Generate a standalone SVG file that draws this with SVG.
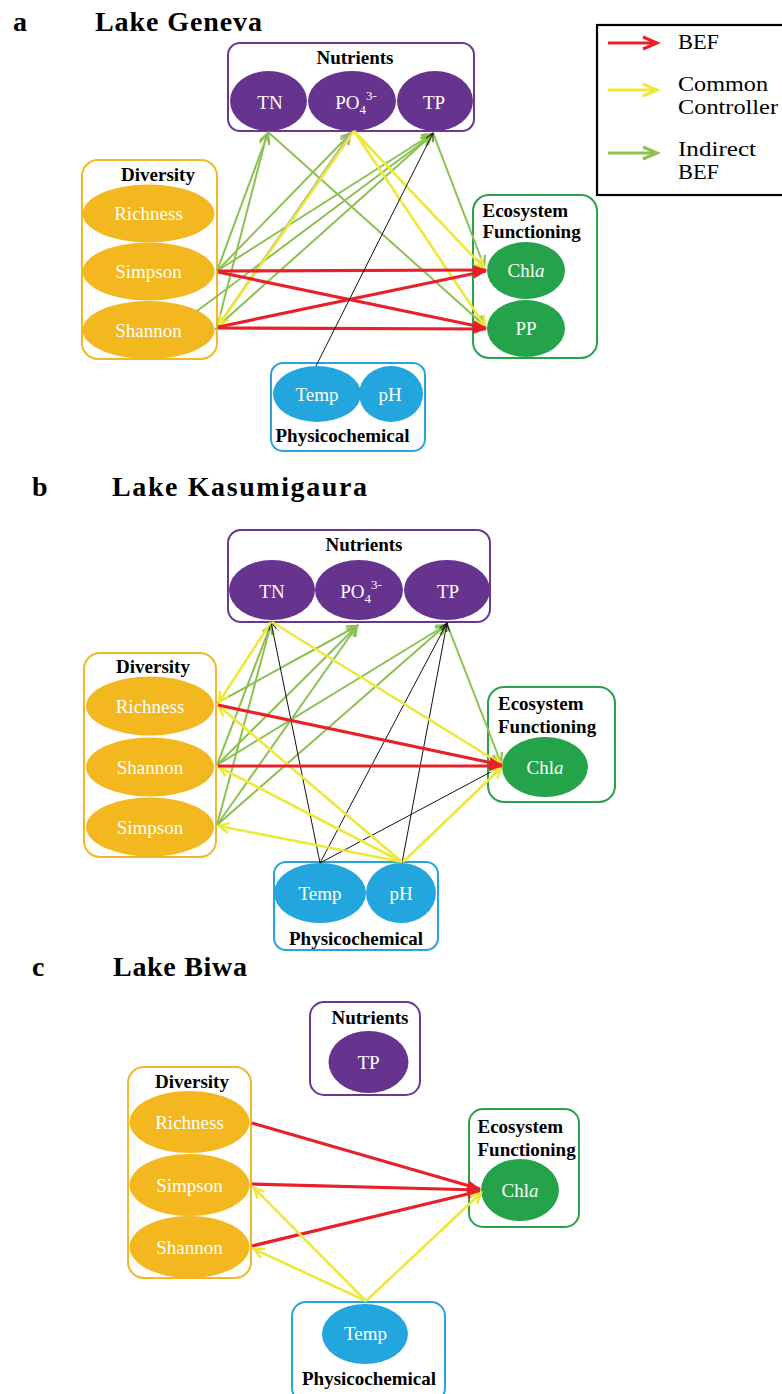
<svg xmlns="http://www.w3.org/2000/svg" width="782" height="1394" viewBox="0 0 782 1394">
<defs>
<style>
text{font-family:"Liberation Serif","Times New Roman",serif}
.ti{font-weight:bold;font-size:28px;fill:#000}
.lb{font-weight:bold;font-size:19px;fill:#000}
.lbc{font-weight:bold;font-size:19px;fill:#000;text-anchor:middle}
.et{fill:#fff;font-size:19px;text-anchor:middle}
.lg{font-size:21px;fill:#000}
.pu{fill:#66338f}
.or{fill:#f3b81f}
.gr{fill:#24a34a}
.bl{fill:#23a6de}
.bpu{fill:none;stroke:#6a3893;stroke-width:2}
.bor{fill:none;stroke:#f3b82a;stroke-width:2}
.bgr{fill:none;stroke:#2aa24c;stroke-width:2}
.bbl{fill:none;stroke:#28a4dc;stroke-width:2}
.r{fill:none;stroke:#e8202a;stroke-width:3.2;marker-end:url(#mr)}
.y{fill:none;stroke:#ece93a;stroke-width:2.6;marker-end:url(#my)}
.g{fill:none;stroke:#8cc152;stroke-width:2;marker-end:url(#mg)}
.gy{fill:none;stroke:#a3ad98;stroke-width:2;marker-end:url(#mgy)}
.k{fill:none;stroke:#111;stroke-width:1;marker-end:url(#mk)}
</style>
<marker id="mr" viewBox="0 0 14 10" refX="13" refY="5" markerWidth="14" markerHeight="10" markerUnits="userSpaceOnUse" orient="auto" overflow="visible"><path d="M0,0 L14,5 L0,10 z" fill="#e8202a"/></marker>
<marker id="my" viewBox="0 0 12 12" refX="11" refY="6" markerWidth="12" markerHeight="12" markerUnits="userSpaceOnUse" orient="auto" overflow="visible"><path d="M1,1 L11,6 L1,11" fill="none" stroke="#ece93a" stroke-width="2.5"/></marker>
<marker id="mg" viewBox="0 0 12 12" refX="11" refY="6" markerWidth="12" markerHeight="12" markerUnits="userSpaceOnUse" orient="auto" overflow="visible"><path d="M1,1 L11,6 L1,11" fill="none" stroke="#8cc152" stroke-width="2.2"/></marker>
<marker id="mgy" viewBox="0 0 12 12" refX="11" refY="6" markerWidth="12" markerHeight="12" markerUnits="userSpaceOnUse" orient="auto" overflow="visible"><path d="M1,1 L11,6 L1,11" fill="none" stroke="#a3ad98" stroke-width="2.2"/></marker>
<marker id="mk" viewBox="0 0 10 10" refX="9" refY="5" markerWidth="10" markerHeight="10" markerUnits="userSpaceOnUse" orient="auto" overflow="visible"><path d="M1,1 L9,5 L1,9" fill="none" stroke="#111" stroke-width="1"/></marker>
<marker id="lr" viewBox="0 0 16 14" refX="15" refY="7" markerWidth="16" markerHeight="14" markerUnits="userSpaceOnUse" orient="auto" overflow="visible"><path d="M1,1 L15,7 L1,13" fill="none" stroke="#e8202a" stroke-width="3"/></marker>
<marker id="ly" viewBox="0 0 16 14" refX="15" refY="7" markerWidth="16" markerHeight="14" markerUnits="userSpaceOnUse" orient="auto" overflow="visible"><path d="M1,1 L15,7 L1,13" fill="none" stroke="#ece93a" stroke-width="3"/></marker>
<marker id="lgm" viewBox="0 0 16 14" refX="15" refY="7" markerWidth="16" markerHeight="14" markerUnits="userSpaceOnUse" orient="auto" overflow="visible"><path d="M1,1 L15,7 L1,13" fill="none" stroke="#8cc152" stroke-width="3"/></marker>
</defs>
<rect x="0" y="0" width="782" height="1394" fill="#fff"/>

<g id="titles">
<text class="ti" x="13" y="31">a</text>
<text class="ti" x="95" y="31" textLength="167" lengthAdjust="spacing">Lake Geneva</text>
<text class="ti" x="32" y="496">b</text>
<text class="ti" x="112" y="496" textLength="255" lengthAdjust="spacing">Lake Kasumigaura</text>
<text class="ti" x="32" y="976">c</text>
<text class="ti" x="113" y="976" textLength="134" lengthAdjust="spacing">Lake Biwa</text>
</g>

<g id="legend">
<rect x="597" y="25" width="200" height="170" fill="#fff" stroke="#000" stroke-width="2.2"/>
<line x1="608" y1="43" x2="657" y2="43" stroke="#e8202a" stroke-width="3.2" marker-end="url(#lr)"/>
<line x1="608" y1="90" x2="657" y2="90" stroke="#ece93a" stroke-width="3" marker-end="url(#ly)"/>
<line x1="608" y1="153" x2="657" y2="153" stroke="#8cc152" stroke-width="3" marker-end="url(#lgm)"/>
<text class="lg" x="678" y="49" textLength="41" lengthAdjust="spacingAndGlyphs">BEF</text>
<text class="lg" x="678" y="91" textLength="90" lengthAdjust="spacingAndGlyphs">Common</text>
<text class="lg" x="678" y="114" textLength="100" lengthAdjust="spacingAndGlyphs">Controller</text>
<text class="lg" x="678" y="156" textLength="78" lengthAdjust="spacingAndGlyphs">Indirect</text>
<text class="lg" x="678" y="179" textLength="41" lengthAdjust="spacingAndGlyphs">BEF</text>
</g>

<!-- Panel a nodes -->
<g id="a-nutrients">
<rect class="bpu" x="228" y="43" width="246" height="88" rx="12"/>
<ellipse class="pu" cx="268.5" cy="101" rx="38.5" ry="30"/>
<ellipse class="pu" cx="352" cy="101" rx="44" ry="30"/>
<ellipse class="pu" cx="435" cy="101" rx="38" ry="30"/>
<text class="lbc" x="355" y="64">Nutrients</text>
<text class="et" x="270" y="109">TN</text>
<text class="et" x="356" y="109">PO<tspan dy="5" font-size="13">4</tspan><tspan dy="-14" font-size="13">3-</tspan></text>
<text class="et" x="434" y="109">TP</text>
</g>
<g id="a-diversity">
<rect class="bor" x="82" y="160" width="135" height="199" rx="16"/>
<ellipse class="or" cx="148.5" cy="213.5" rx="66" ry="29"/>
<ellipse class="or" cx="148.5" cy="271.5" rx="66" ry="29"/>
<ellipse class="or" cx="148.5" cy="330" rx="66" ry="29"/>
<text class="lbc" x="158" y="181">Diversity</text>
<text class="et" x="148.5" y="220">Richness</text>
<text class="et" x="148.5" y="278">Simpson</text>
<text class="et" x="148.5" y="337">Shannon</text>
</g>
<g id="a-ecosystem">
<rect class="bgr" x="473" y="195" width="124" height="163" rx="16"/>
<ellipse class="gr" cx="526" cy="270.5" rx="39" ry="28.5"/>
<ellipse class="gr" cx="526" cy="328.5" rx="39" ry="28.5"/>
<text class="lb" x="482.5" y="216.5">Ecosystem</text>
<text class="lb" x="482.5" y="238">Functioning</text>
<text class="et" x="526" y="277">Chl<tspan font-style="italic">a</tspan></text>
<text class="et" x="526" y="335">PP</text>
</g>
<g id="a-physico">
<rect class="bbl" x="271" y="363" width="154" height="88" rx="12"/>
<ellipse class="bl" cx="317" cy="394" rx="44" ry="28"/>
<ellipse class="bl" cx="391" cy="394" rx="32" ry="28"/>
<text class="et" x="317" y="400.5">Temp</text>
<text class="et" x="390" y="400.5">pH</text>
<text class="lbc" x="342.5" y="441.5">Physicochemical</text>
</g>

<!-- Panel b nodes -->
<g id="b-nutrients">
<rect class="bpu" x="228" y="530" width="262" height="92" rx="13"/>
<ellipse class="pu" cx="272" cy="590" rx="43" ry="30"/>
<ellipse class="pu" cx="359" cy="590" rx="44" ry="30"/>
<ellipse class="pu" cx="447" cy="590" rx="43" ry="30"/>
<text class="lbc" x="364" y="551">Nutrients</text>
<text class="et" x="272" y="598">TN</text>
<text class="et" x="361" y="598">PO<tspan dy="5" font-size="13">4</tspan><tspan dy="-14" font-size="13">3-</tspan></text>
<text class="et" x="448" y="598">TP</text>
</g>
<g id="b-diversity">
<rect class="bor" x="84" y="653" width="132" height="204" rx="16"/>
<ellipse class="or" cx="150" cy="706" rx="64" ry="29.5"/>
<ellipse class="or" cx="150" cy="767" rx="64" ry="29.5"/>
<ellipse class="or" cx="150" cy="827" rx="64" ry="29.5"/>
<text class="lbc" x="153" y="673">Diversity</text>
<text class="et" x="150" y="713">Richness</text>
<text class="et" x="150" y="773.5">Shannon</text>
<text class="et" x="150" y="833.5">Simpson</text>
</g>
<g id="b-ecosystem">
<rect class="bgr" x="488" y="687" width="127" height="115" rx="16"/>
<ellipse class="gr" cx="545" cy="767" rx="43" ry="30"/>
<text class="lb" x="498" y="710">Ecosystem</text>
<text class="lb" x="498" y="733">Functioning</text>
<text class="et" x="545" y="773.5">Chl<tspan font-style="italic">a</tspan></text>
</g>
<g id="b-physico">
<rect class="bbl" x="274" y="862" width="164" height="88" rx="12"/>
<ellipse class="bl" cx="320" cy="893" rx="46" ry="30"/>
<ellipse class="bl" cx="401" cy="893" rx="35" ry="30"/>
<text class="et" x="320" y="900">Temp</text>
<text class="et" x="401" y="900">pH</text>
<text class="lbc" x="356" y="945">Physicochemical</text>
</g>

<!-- Panel c nodes -->
<g id="c-nutrients">
<rect class="bpu" x="310" y="1002" width="110" height="93" rx="14"/>
<ellipse class="pu" cx="368.5" cy="1062" rx="40" ry="31"/>
<text class="lbc" x="370" y="1024">Nutrients</text>
<text class="et" x="368.5" y="1069">TP</text>
</g>
<g id="c-diversity">
<rect class="bor" x="128" y="1067" width="123" height="211" rx="16"/>
<ellipse class="or" cx="189.5" cy="1122" rx="60" ry="31"/>
<ellipse class="or" cx="189.5" cy="1185" rx="60" ry="31"/>
<ellipse class="or" cx="189.5" cy="1247" rx="60" ry="31"/>
<text class="lbc" x="192" y="1088">Diversity</text>
<text class="et" x="189.5" y="1129">Richness</text>
<text class="et" x="189.5" y="1192">Simpson</text>
<text class="et" x="189.5" y="1254">Shannon</text>
</g>
<g id="c-ecosystem">
<rect class="bgr" x="469" y="1109" width="110" height="118" rx="14"/>
<ellipse class="gr" cx="520" cy="1190" rx="39" ry="31"/>
<text class="lb" x="477.5" y="1133">Ecosystem</text>
<text class="lb" x="477.5" y="1156">Functioning</text>
<text class="et" x="520" y="1197">Chl<tspan font-style="italic">a</tspan></text>
</g>
<g id="c-physico">
<rect class="bbl" x="292" y="1302" width="153" height="100" rx="14"/>
<ellipse class="bl" cx="365" cy="1334" rx="43" ry="30"/>
<text class="et" x="365.5" y="1340">Temp</text>
<text class="lbc" x="369" y="1385">Physicochemical</text>
</g>

<g id="connectors">
<!-- panel a -->
<line class="g" x1="217" y1="271" x2="268" y2="133"/>
<line class="g" x1="217" y1="327" x2="267" y2="134"/>
<line class="g" x1="217" y1="271" x2="351" y2="133"/>
<line class="g" x1="217" y1="271" x2="432" y2="134"/>
<line class="g" x1="217" y1="327" x2="432" y2="135"/>
<line class="g" x1="197" y1="311" x2="431" y2="136"/>
<line class="g" x1="268" y1="132" x2="485" y2="326"/>
<line class="g" x1="433" y1="133" x2="484" y2="266"/>
<line class="gy" x1="215" y1="330" x2="350" y2="134"/>
<line class="y" x1="354" y1="131" x2="219" y2="325"/>
<line class="y" x1="354" y1="131" x2="484" y2="268"/>
<line class="y" x1="354" y1="131" x2="485" y2="326"/>
<line class="r" x1="218" y1="271" x2="486" y2="270"/>
<line class="r" x1="218" y1="272" x2="486" y2="328"/>
<line class="r" x1="218" y1="327" x2="486" y2="271"/>
<line class="r" x1="218" y1="328" x2="486" y2="329"/>
<line class="k" x1="316" y1="366" x2="433" y2="133"/>
<!-- panel b -->
<line class="g" x1="217" y1="703" x2="357" y2="626"/>
<line class="g" x1="217" y1="765" x2="357" y2="626"/>
<line class="g" x1="217" y1="825" x2="357" y2="626"/>
<line class="g" x1="217" y1="765" x2="271" y2="624"/>
<line class="g" x1="217" y1="825" x2="271" y2="624"/>
<line class="g" x1="217" y1="765" x2="446" y2="625"/>
<line class="g" x1="217" y1="825" x2="446" y2="625"/>
<line class="g" x1="447" y1="624" x2="501" y2="763"/>
<line class="k" x1="320" y1="863" x2="271" y2="622"/>
<line class="k" x1="320" y1="863" x2="447" y2="623"/>
<line class="k" x1="402" y1="863" x2="447" y2="623"/>
<line class="k" x1="320" y1="863" x2="502" y2="766"/>
<line class="y" x1="271" y1="622" x2="219" y2="702"/>
<line class="y" x1="272" y1="622" x2="501" y2="764"/>
<line class="y" x1="402" y1="862" x2="219" y2="706"/>
<line class="y" x1="402" y1="862" x2="219" y2="767"/>
<line class="y" x1="402" y1="862" x2="219" y2="826"/>
<line class="y" x1="403" y1="862" x2="501" y2="768"/>
<line class="r" x1="218" y1="705" x2="502" y2="765"/>
<line class="r" x1="218" y1="766" x2="502" y2="766"/>
<!-- panel c -->
<line class="r" x1="252" y1="1123" x2="480" y2="1189"/>
<line class="r" x1="252" y1="1184" x2="480" y2="1190"/>
<line class="r" x1="252" y1="1246" x2="480" y2="1191"/>
<line class="y" x1="366" y1="1301" x2="254" y2="1188"/>
<line class="y" x1="366" y1="1301" x2="254" y2="1249"/>
<line class="y" x1="366" y1="1301" x2="481" y2="1193"/>
</g>
</svg>
